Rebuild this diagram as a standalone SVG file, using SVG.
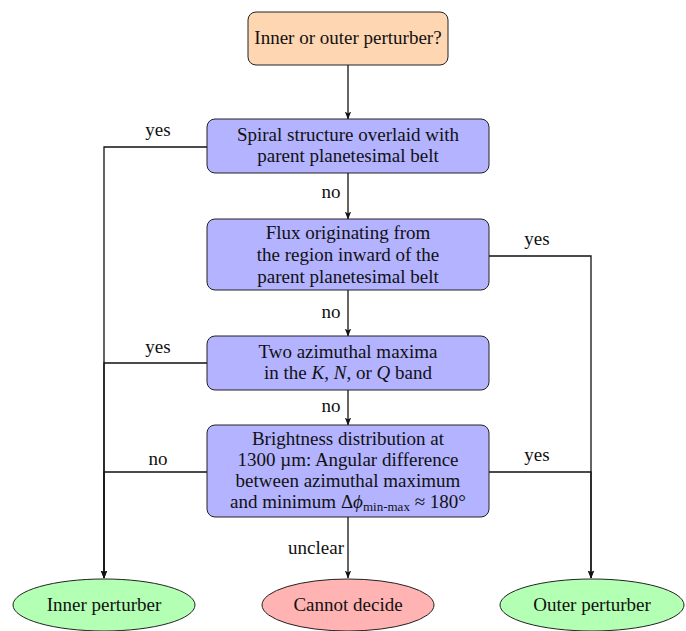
<svg xmlns="http://www.w3.org/2000/svg" width="686" height="631" viewBox="0 0 686 631">
<style>
.t{font-family:"Liberation Serif","Times New Roman",serif;font-size:19px;fill:#111;text-anchor:middle}
.l{font-family:"Liberation Serif","Times New Roman",serif;font-size:19px;fill:#111;text-anchor:middle}
.box{stroke:#222;stroke-width:1}
.c{fill:none;stroke:#111;stroke-width:1.3}
</style>
<defs>
<marker id="ah" viewBox="0 0 8 8" refX="7.5" refY="4" markerWidth="8" markerHeight="8" markerUnits="userSpaceOnUse" orient="auto">
<path d="M0,0.8 L8,4 L0,7.2 L2,4 Z" fill="#111"/>
</marker>
</defs>
<rect width="686" height="631" fill="#fff"/>
<g id="connectors">
<path class="c" d="M348,65 V119" marker-end="url(#ah)"/>
<path class="c" d="M348,173 V219" marker-end="url(#ah)"/>
<path class="c" d="M348,290 V336" marker-end="url(#ah)"/>
<path class="c" d="M348,390 V425" marker-end="url(#ah)"/>
<path class="c" d="M348,517 V578" marker-end="url(#ah)"/>
<path class="c" d="M207,147 H104 V578" marker-end="url(#ah)"/>
<path class="c" d="M207,363 H104 V578" marker-end="url(#ah)"/>
<path class="c" d="M207,472 H104 V578" marker-end="url(#ah)"/>
<path class="c" d="M489,256 H591 V578" marker-end="url(#ah)"/>
<path class="c" d="M489,472 H591 V578" marker-end="url(#ah)"/>
<text class="l" x="158" y="136">yes</text>
<text class="l" x="331" y="198">no</text>
<text class="l" x="537" y="245">yes</text>
<text class="l" x="331" y="318">no</text>
<text class="l" x="158" y="353">yes</text>
<text class="l" x="331" y="412">no</text>
<text class="l" x="158" y="465">no</text>
<text class="l" x="537" y="461">yes</text>
<text class="l" x="316" y="554">unclear</text>
</g>
<g id="start">
<rect class="box" x="248" y="12" width="200" height="53" rx="8" fill="#FFD6B2"/>
<text class="t" x="348" y="44">Inner or outer perturber?</text>
</g>
<g id="spiral">
<rect class="box" x="207" y="119" width="282" height="54" rx="8" fill="#B3B3FF"/>
<text class="t" x="348" y="141">Spiral structure overlaid with</text>
<text class="t" x="348" y="162">parent planetesimal belt</text>
</g>
<g id="flux">
<rect class="box" x="207" y="219" width="282" height="71" rx="8" fill="#B3B3FF"/>
<text class="t" x="348" y="239">Flux originating from</text>
<text class="t" x="348" y="261">the region inward of the</text>
<text class="t" x="348" y="283">parent planetesimal belt</text>
</g>
<g id="maxima">
<rect class="box" x="207" y="336" width="282" height="54" rx="8" fill="#B3B3FF"/>
<text class="t" x="348" y="358">Two azimuthal maxima</text>
<text class="t" x="348" y="379">in the <tspan font-style="italic">K</tspan>, <tspan font-style="italic">N</tspan>, or <tspan font-style="italic">Q</tspan> band</text>
</g>
<g id="brightness">
<rect class="box" x="207" y="425" width="282" height="92" rx="8" fill="#B3B3FF"/>
<text class="t" x="348" y="445">Brightness distribution at</text>
<text class="t" x="348" y="466">1300 µm: Angular difference</text>
<text class="t" x="348" y="487">between azimuthal maximum</text>
<text class="t" x="348" y="508">and minimum Δ<tspan font-style="italic">ϕ</tspan><tspan font-size="13" dy="3">min-max</tspan><tspan dy="-3"> ≈ 180°</tspan></text>
</g>
<g id="inner">
<ellipse class="box" cx="104" cy="605" rx="91" ry="26" fill="#B3FFB3"/>
<text class="t" x="104" y="611">Inner perturber</text>
</g>
<g id="cannot">
<ellipse class="box" cx="348" cy="605" rx="86" ry="26" fill="#FFB3B3"/>
<text class="t" x="348" y="611">Cannot decide</text>
</g>
<g id="outer">
<ellipse class="box" cx="592" cy="605" rx="92" ry="26" fill="#B3FFB3"/>
<text class="t" x="592" y="611">Outer perturber</text>
</g>
</svg>
